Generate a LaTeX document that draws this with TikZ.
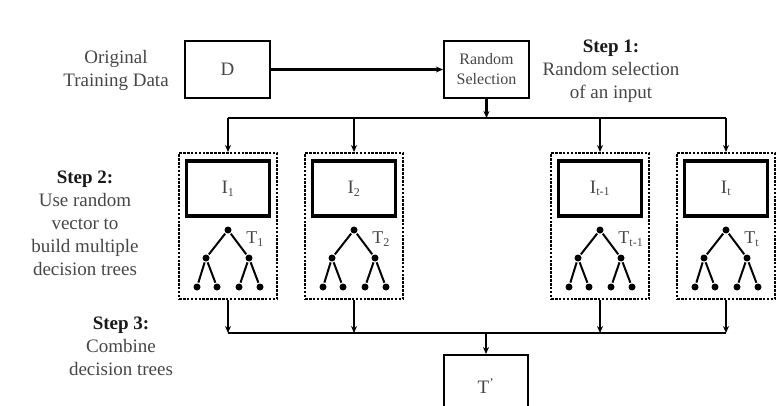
\documentclass[tikz,border=0pt]{standalone}
\usepackage{fontspec}
\setmainfont{Liberation Serif}
\usetikzlibrary{positioning,arrows.meta}
\definecolor{txtgray}{RGB}{70,70,70}
\definecolor{stepblack}{RGB}{25,25,25}

\tikzset{
  box/.style={draw,line width=2.2pt,minimum width=85pt,minimum height=57pt,inner sep=0pt},
  ibox/.style={draw,line width=3.2pt,minimum width=83pt,minimum height=55pt,inner sep=0pt,
               font=\fontsize{19}{22}\selectfont,text=txtgray},
  treebox/.style={draw,dashed,line width=2pt,dash pattern=on 2.6pt off 1.3pt,
                  minimum width=98pt,minimum height=146pt,inner sep=0pt},
  desc/.style={align=center,text=txtgray,font=\fontsize{19}{23}\selectfont},
  leaf/.style={circle,fill=black,inner sep=0pt,minimum size=7pt},
  edge/.style={line width=2pt},
}

\begin{document}
\begin{tikzpicture}[x=1pt,y=-1pt,line width=2.2pt,>={Stealth[length=7pt,width=6pt]}]
\useasboundingbox (0,0) rectangle (783,406);
\clip (0,0) rectangle (783,406);

% labels on the left and top
\node[desc] (orig) at (116,70) {Original\\Training Data};
\node[desc] (step1) at (611,71) {\textcolor{stepblack}{\bfseries Step 1:}\\Random selection\\of an input};
\node[desc] (step2) at (85,223) {\textcolor{stepblack}{\bfseries Step 2:}\\Use random\\vector to\\build multiple\\decision trees};
\node[desc] (step3) at (121,346) {\textcolor{stepblack}{\bfseries Step 3:}\\Combine\\decision trees};

% data and selection
\node[box,desc] (data) at (227.5,69.5) {D};
\node[box,desc,font=\fontsize{16}{20}\selectfont] (rsel) at (486.5,69.5) {Random\\Selection};
\draw[->] (data.east) -- (rsel.west);

% final box
\node[box,desc,minimum height=62pt,anchor=north,minimum width=84pt] (tfin) at (486,354) {T\textsuperscript{'}};

% top and bottom bus
\coordinate (tbus) at (486.5,118);
\coordinate (bbus) at (486,333);
\draw[->] (rsel.south) -- (tbus);

\foreach \n/\x/\s in {1/228/1, 2/354/2, 3/600/t-1, 4/726/t}{
  \node[treebox] (col\n) at (\x,226) {};
  \node[ibox] (in\n) at (\x,188.5) {I\textsubscript{\fontsize{12}{12}\selectfont\s}};
  % tree
  \node[leaf] (r\n) at (\x,230) {};
  \node[leaf] (ma\n) at (\x-22,258) {};
  \node[leaf] (mb\n) at (\x+21,258) {};
  \node[leaf] (la\n) at (\x-31,287) {};
  \node[leaf] (lb\n) at (\x-11,287) {};
  \node[leaf] (lc\n) at (\x+11,287) {};
  \node[leaf] (ld\n) at (\x+32,287) {};
  \draw[edge] (r\n) -- (ma\n) (r\n) -- (mb\n)
              (ma\n) -- (la\n) (ma\n) -- (lb\n)
              (mb\n) -- (lc\n) (mb\n) -- (ld\n);
  \node[text=txtgray,font=\fontsize{18}{18}\selectfont,anchor=west] (tl\n) at (\x+14,239)
       {T\textsubscript{\fontsize{12}{12}\selectfont\s}};
  % connectors
  \coordinate (up\n) at (\x,118);
  \coordinate (dn\n) at (\x,333);
  \draw[->] (up\n) -- (col\n.north);
  \draw[->] (col\n.south) -- (dn\n);
}
\draw (up1) -- (up4);
\draw (dn1) -- (dn4);
\draw[->] (bbus) -- (tfin.north);

\end{tikzpicture}
\end{document}
